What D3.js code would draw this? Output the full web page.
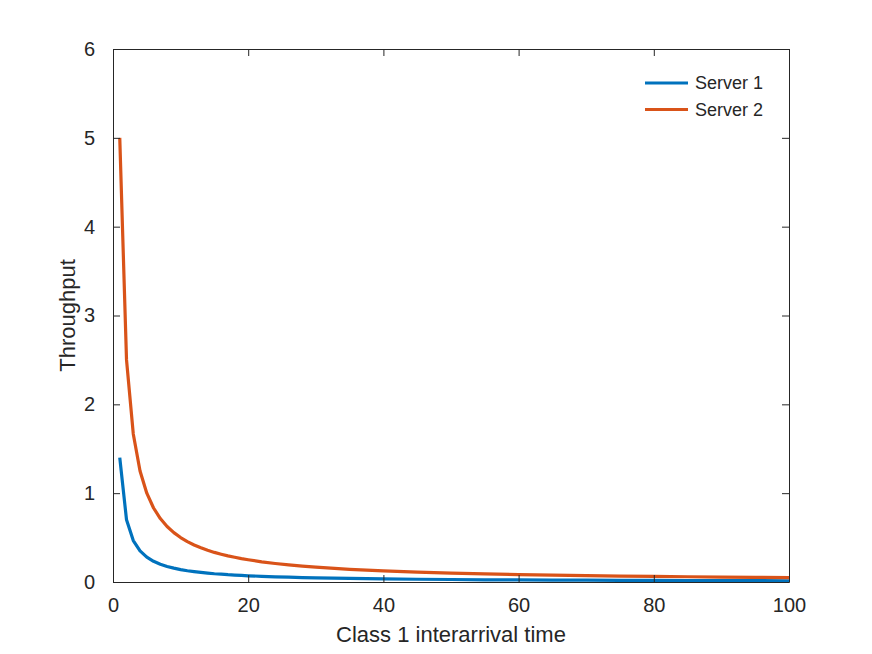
<!DOCTYPE html>
<html lang="en">
<head>
  <meta charset="UTF-8">
  <title>Throughput</title>
  <style>
    body { margin: 0; background: #fff; }
    text { font-family: "Liberation Sans", Arial, Helvetica, sans-serif; fill: #262626; }
  </style>
</head>
<body>
  <div id="chart"></div>
  <script src="https://d3js.org/d3.v7.min.js"></script>
  <script>
    // interarrival times
    const interarrival = [1, 2, 3, 4, 5, 6, 7, 8, 9, 10, 11, 12, 13, 14, 15, 16, 17, 18, 19, 20,
      22, 24, 26, 28, 30, 35, 40, 45, 50, 55, 60, 65, 70, 75, 80, 85, 90, 95, 100];

    const server1 = [1.4, 0.7, 0.467, 0.35, 0.28, 0.233, 0.2, 0.175, 0.156, 0.14, 0.127, 0.117, 0.108, 0.1,
      0.093, 0.088, 0.082, 0.078, 0.074, 0.07, 0.064, 0.058, 0.054, 0.05, 0.047, 0.04, 0.035, 0.031,
      0.028, 0.025, 0.023, 0.022, 0.02, 0.019, 0.018, 0.016, 0.016, 0.015, 0.014];

    const server2 = [5, 2.5, 1.667, 1.25, 1.0, 0.833, 0.714, 0.625, 0.556, 0.5, 0.455, 0.417, 0.385, 0.357,
      0.333, 0.313, 0.294, 0.278, 0.263, 0.25, 0.227, 0.208, 0.192, 0.179, 0.167, 0.143, 0.125, 0.111,
      0.1, 0.091, 0.083, 0.077, 0.071, 0.067, 0.063, 0.059, 0.056, 0.053, 0.05];

    const xTicks = [0, 20, 40, 60, 80, 100];
    const yTicks = [0, 1, 2, 3, 4, 5, 6];
    const seriesNames = ["Server 1", "Server 2"];
    const seriesColors = ["#0072BD", "#D95319"];

    const width = 872, height = 654;
    const margin = { top: 49, right: 83, bottom: 72, left: 113 };
    const tickLen = 7;
    const axisColor = "#262626";

    const svg = d3.select("#chart")
      .append("svg")
      .attr("width", width)
      .attr("height", height);

    const x = d3.scaleLinear()
      .domain([0, 100])
      .range([margin.left, width - margin.right]);

    const y = d3.scaleLinear()
      .domain([0, 6])
      .range([height - margin.bottom, margin.top]);

    // lines first so the box sits on top
    const series = [server1, server2].map((vals, i) => ({
      name: seriesNames[i],
      color: seriesColors[i],
      points: interarrival.map((t, j) => [t, vals[j]])
    }));

    const line = d3.line()
      .x(d => x(d[0]))
      .y(d => y(d[1]));

    svg.append("g")
      .selectAll("path")
      .data(series)
      .join("path")
      .attr("fill", "none")
      .attr("stroke", d => d.color)
      .attr("stroke-width", 3.2)
      .attr("stroke-linejoin", "round")
      .attr("d", d => line(d.points));

    // axes, ticks pointing inward, box on
    svg.append("g")
      .attr("transform", `translate(0,${height - margin.bottom})`)
      .call(d3.axisBottom(x).tickValues(xTicks).tickFormat(d3.format("d"))
        .tickSizeInner(-tickLen).tickSizeOuter(0).tickPadding(16));

    svg.append("g")
      .attr("transform", `translate(${margin.left},0)`)
      .call(d3.axisLeft(y).tickValues(yTicks).tickFormat(d3.format("d"))
        .tickSizeInner(-tickLen).tickSizeOuter(0).tickPadding(18));

    svg.append("g")
      .attr("transform", `translate(0,${margin.top})`)
      .call(d3.axisTop(x).tickValues(xTicks).tickSizeInner(-tickLen).tickSizeOuter(0).tickFormat(""));

    svg.append("g")
      .attr("transform", `translate(${width - margin.right},0)`)
      .call(d3.axisRight(y).tickValues(yTicks).tickSizeInner(-tickLen).tickSizeOuter(0).tickFormat(""));

    svg.selectAll(".domain, .tick line")
      .attr("stroke", axisColor);

    svg.selectAll(".tick text")
      .attr("font-size", 20)
      .attr("fill", axisColor);

    // x label
    svg.append("text")
      .attr("x", x(50))
      .attr("y", 642)
      .attr("text-anchor", "middle")
      .attr("font-size", 22)
      .text("Class 1 interarrival time");

    // y label
    svg.append("text")
      .attr("transform", `translate(75,${y(3)}) rotate(-90)`)
      .attr("text-anchor", "middle")
      .attr("font-size", 22)
      .text("Throughput");

    // legend, no box
    const legend = svg.append("g")
      .selectAll("g")
      .data(series)
      .join("g")
      .attr("transform", (d, i) => `translate(645,${83 + i * 26.5})`);

    legend.append("line")
      .attr("x1", 0)
      .attr("x2", 43)
      .attr("stroke", d => d.color)
      .attr("stroke-width", 3.2);

    legend.append("text")
      .attr("x", 50)
      .attr("dy", "0.35em")
      .attr("font-size", 18)
      .text(d => d.name);
  </script>
</body>
</html>
